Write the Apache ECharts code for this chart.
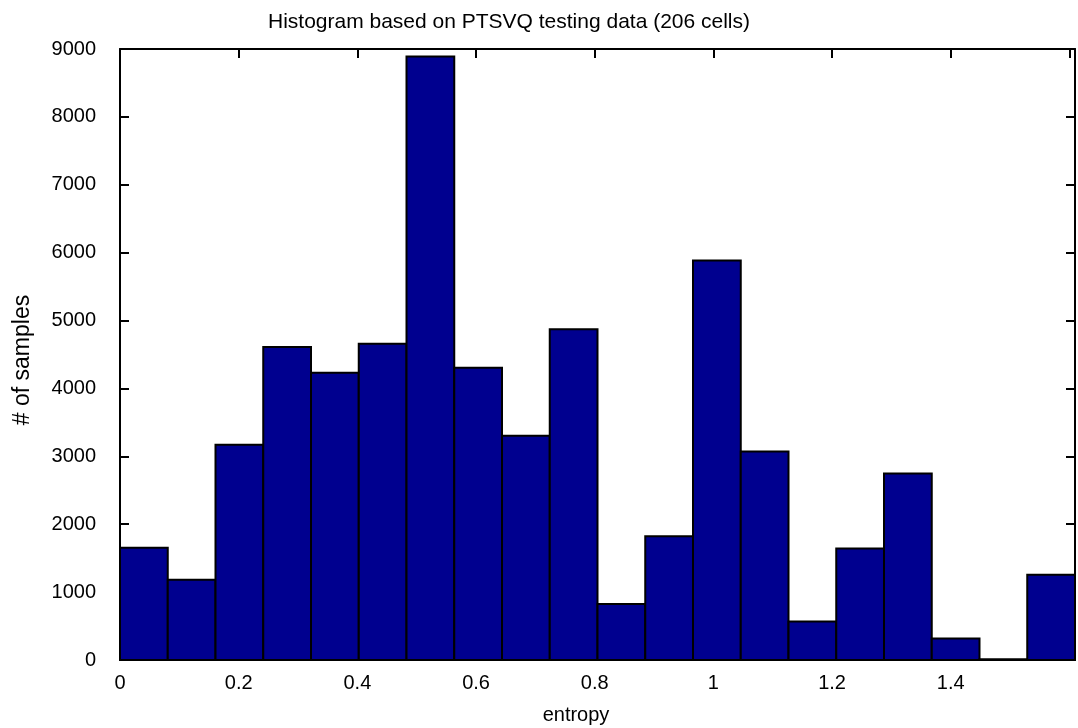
<!DOCTYPE html>
<html>
<head>
<meta charset="utf-8">
<script src="https://cdn.jsdelivr.net/npm/echarts@6/dist/echarts.min.js"></script>
<style>
html,body{margin:0;padding:0;background:#fff;}
#chart{width:1078px;height:728px;}
</style>
</head>
<body>
<div id="chart"></div>
<script>
// Histogram data
const titleText = 'Histogram based on PTSVQ testing data (206 cells)';
const xName = 'entropy';
const yName = '# of samples';
const xMin = 0;
const xMax = 1.6094; // ln(5)
const counts = [1652, 1183, 3170, 4611, 4231, 4660, 8890, 4305, 3303, 4871,
                824, 1824, 5883, 3072, 567, 1642, 2747, 315, 10, 1257];
const yTicks = [0, 1000, 2000, 3000, 4000, 5000, 6000, 7000, 8000, 9000];

const binW = (xMax - xMin) / counts.length;
const bins = counts.map((c, i) => [xMin + i * binW, xMin + (i + 1) * binW, c]);

const chart = echarts.init(document.getElementById('chart'), null, {renderer: 'canvas'});
const FONT = 'Liberation Sans, Arial, sans-serif';
const fmtX = v => {
  if (v > 1.5) return '';
  const r = Math.round(v * 10) / 10;
  return String(r);
};
const fmtY = v => String(Math.round(v));
const axisLine = {show: true, onZero: false, lineStyle: {color: '#000', width: 2}};
const axisTick = {show: true, inside: true, length: 9, lineStyle: {color: '#000', width: 2}};

chart.setOption({
  animation: false,
  backgroundColor: '#fff',
  grid: {left: 120, right: 2, top: 49, bottom: 68, containLabel: false},
  xAxis: [
    {type: 'value', position: 'bottom', min: xMin, max: xMax, interval: 0.2,
     axisLine: axisLine, axisTick: axisTick, splitLine: {show: false},
     axisLabel: {formatter: fmtX, fontSize: 20, color: '#000', fontFamily: FONT, margin: 13}},
    {type: 'value', position: 'top', min: xMin, max: xMax, interval: 0.2,
     axisLine: axisLine, axisTick: axisTick, splitLine: {show: false},
     axisLabel: {show: false}}
  ],
  yAxis: [
    {type: 'value', position: 'left', min: yTicks[0], max: yTicks[yTicks.length - 1], interval: 1000,
     axisLine: axisLine, axisTick: axisTick, splitLine: {show: false},
     axisLabel: {formatter: fmtY, fontSize: 20, color: '#000', fontFamily: FONT, margin: 24}},
    {type: 'value', position: 'right', min: yTicks[0], max: yTicks[yTicks.length - 1], interval: 1000,
     axisLine: axisLine, axisTick: axisTick, splitLine: {show: false},
     axisLabel: {show: false}}
  ],
  series: [{
    type: 'custom',
    xAxisIndex: 0,
    yAxisIndex: 0,
    data: bins,
    encode: {x: [0, 1], y: 2},
    renderItem: function (params, api) {
      const p0 = api.coord([api.value(0), api.value(2)]);
      const p1 = api.coord([api.value(1), 0]);
      return {
        type: 'rect',
        shape: {x: p0[0], y: p0[1], width: p1[0] - p0[0], height: p1[1] - p0[1]},
        style: {fill: '#00008f', stroke: '#000', lineWidth: 2}
      };
    },
    z: 1
  }],
  graphic: [
    {type: 'text', x: 509, y: 22, style: {text: titleText, fill: '#000', font: '21px ' + FONT, textAlign: 'center', textVerticalAlign: 'middle'}},
    {type: 'text', x: 576, y: 715, style: {text: xName, fill: '#000', font: '20px ' + FONT, textAlign: 'center', textVerticalAlign: 'middle'}},
    {type: 'text', x: 23, y: 360, rotation: Math.PI / 2, style: {text: yName, fill: '#000', font: '23px ' + FONT, textAlign: 'center', textVerticalAlign: 'middle'}}
  ]
});
</script>
</body>
</html>
